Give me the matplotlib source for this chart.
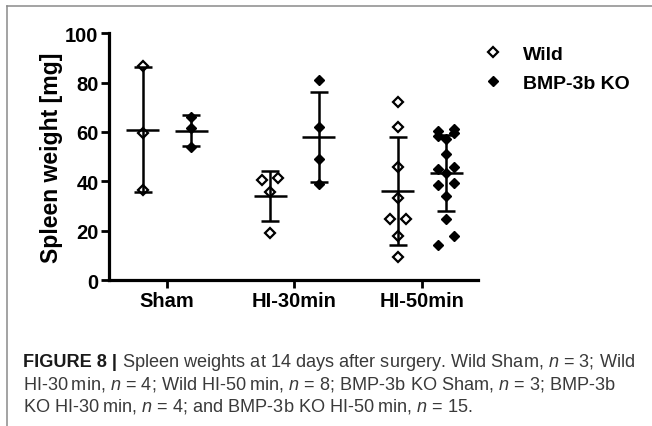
import numpy as np
import matplotlib
matplotlib.use("Agg")
import matplotlib.pyplot as plt
from matplotlib.lines import Line2D

plt.rcParams["font.family"] = ["Liberation Sans", "DejaVu Sans"]
plt.rcParams["mathtext.fontset"] = "custom"
plt.rcParams["mathtext.rm"] = "Liberation Sans"
plt.rcParams["mathtext.it"] = "Liberation Sans:italic"

groups = ["Sham", "HI-30min", "HI-50min"]

# spleen weight [mg]
wild_sham = [86.9, 59.5, 36.5]
wild_hi30 = [40.5, 41.2, 35.5, 19.1]
wild_hi50 = [72.0, 61.9, 45.7, 33.2, 24.7, 24.7, 17.7, 9.5]
ko_sham = [66.2, 61.5, 54.0]
ko_hi30 = [81.2, 62.2, 49.1, 38.8]
ko_hi50 = [14.2, 17.7, 24.6, 34.2, 38.5, 39.3, 43.4, 45.0, 45.7, 51.2,
           57.0, 58.5, 59.5, 60.5, 61.2]

wild = [wild_sham, wild_hi30, wild_hi50]
ko = [ko_sham, ko_hi30, ko_hi50]

caption = [
    [("FIGURE 8 |", "bold"),
     (" Spleen weights at 14 days after surgery. Wild Sham, $n$ = 3; Wild", "normal")],
    [("HI-30\u2009min, $n$ = 4; Wild HI-50\u2009min, $n$ = 8; BMP-3b KO Sham, $n$ = 3; BMP-3b", "normal")],
    [("KO HI-30\u2009min, $n$ = 4; and BMP-3b KO HI-50\u2009min, $n$ = 15.", "normal")],
]


def swarm(values, center, step, row_h=3.6, max_row=3):
    # simple GraphPad-like spreading: close values share a row
    values = np.asarray(values, float)
    order = np.argsort(values)
    rows = []
    for i in order:
        if rows and values[i] - values[rows[-1][0]] < row_h and len(rows[-1]) < max_row:
            rows[-1].append(i)
        else:
            rows.append([i])
    xs = np.full(len(values), float(center))
    for row in rows:
        n = len(row)
        if n % 2:
            slots = [0] + [s for k in range(1, n) for s in (-k, k)]
        else:
            slots = [s for k in range(1, n) for s in (-k, k)]
        for i, s in zip(row, slots[:n]):
            xs[i] = center + s * step
    return xs


fig = plt.figure(figsize=(6.52, 4.27), dpi=100)
ax = fig.add_axes([0.1672, 0.3419, 0.5659, 0.5778])
ax.set_xlim(0.545, 3.44)
ax.set_ylim(0, 100)

px_per_unit = ax.get_position().width * fig.get_figwidth() * fig.dpi / (3.44 - 0.545)
step = 8 / px_per_unit
off = 0.19
half_mean = 16.5 / px_per_unit
lw = 1.8

for i, (w, k) in enumerate(zip(wild, ko)):
    pos = i + 1
    for vals, x0, filled in [(w, pos - off, False), (k, pos + off, True)]:
        vals = np.asarray(vals)
        m, sd = vals.mean(), vals.std(ddof=1)
        ax.errorbar([x0], [m], yerr=[sd], fmt="none", ecolor="black",
                    elinewidth=lw, capsize=6.6, capthick=lw, zorder=2)
        ax.hlines(m, x0 - half_mean, x0 + half_mean, color="black", lw=lw, zorder=2)
        xs = swarm(vals, x0, step)
        if filled:
            ax.plot(xs, vals, "D", ms=5.3, mfc="black", mec="black", mew=1.0,
                    ls="none", zorder=3, clip_on=False)
        else:
            ax.plot(xs, vals, "D", ms=5.0, mfc="none", mec="black", mew=1.6,
                    ls="none", zorder=3, clip_on=False)

ax.spines["top"].set_visible(False)
ax.spines["right"].set_visible(False)
for s in ["left", "bottom"]:
    ax.spines[s].set_linewidth(2.3)
ax.set_xticks([1, 2, 3])
ax.set_xticklabels(groups, fontweight="bold")
ax.set_yticks(range(0, 101, 20))
for lab in ax.get_yticklabels():
    lab.set_fontweight("bold")
ax.tick_params(axis="both", length=6, width=2.0, labelsize=14.5, direction="out")
ax.tick_params(axis="y", pad=1.5)
ax.tick_params(axis="x", pad=2)
ax.set_ylabel("Spleen weight [mg]", fontsize=16.6, fontweight="bold")
ax.yaxis.set_label_coords(-0.125, 0.5)

handles = [
    Line2D([], [], marker="D", ls="none", ms=5.0, mfc="none", mec="black", mew=1.6),
    Line2D([], [], marker="D", ls="none", ms=5.3, mfc="black", mec="black"),
]
leg = ax.legend(handles, ["Wild", "BMP-3b KO"], loc="upper left",
                bbox_to_anchor=(483.3 / 652, 1 - 46 / 427), bbox_transform=fig.transFigure,
                frameon=False, handlelength=1.0, handletextpad=1.05, labelspacing=0.6,
                borderpad=0, borderaxespad=0,
                prop={"size": 14, "weight": "bold"})

# thin grey frame of the figure panel
fig.add_artist(Line2D([7.3 / 652, 1], [1 - 7.3 / 427] * 2, transform=fig.transFigure,
                      color="#8a8a8a", lw=1.1))
fig.add_artist(Line2D([7.3 / 652] * 2, [1 - 7.3 / 427, 0], transform=fig.transFigure,
                      color="#8a8a8a", lw=1.1))

# caption, fitted to the panel width
renderer = fig.canvas.get_renderer()
W = fig.get_figwidth() * fig.dpi
H = fig.get_figheight() * fig.dpi
x_left = 23
target = 612
baselines = [367, 389, 411]


def draw_caption(size):
    texts = []
    widths = []
    for line, yb in zip(caption, baselines):
        x = x_left
        for piece, weight in line:
            t = fig.text(x / W, 1 - yb / H, piece, fontsize=size, fontweight=weight,
                         color="#1a1a1a" if weight == "bold" else "#3a3a3a",
                         ha="left", va="baseline")
            x += t.get_window_extent(renderer).width
            texts.append(t)
        widths.append(x - x_left)
    return texts, widths


texts, widths = draw_caption(12)
size = 12 * target / widths[0]
for t in texts:
    t.remove()
draw_caption(size)

fig.savefig("out.png", dpi=100, facecolor="white")
